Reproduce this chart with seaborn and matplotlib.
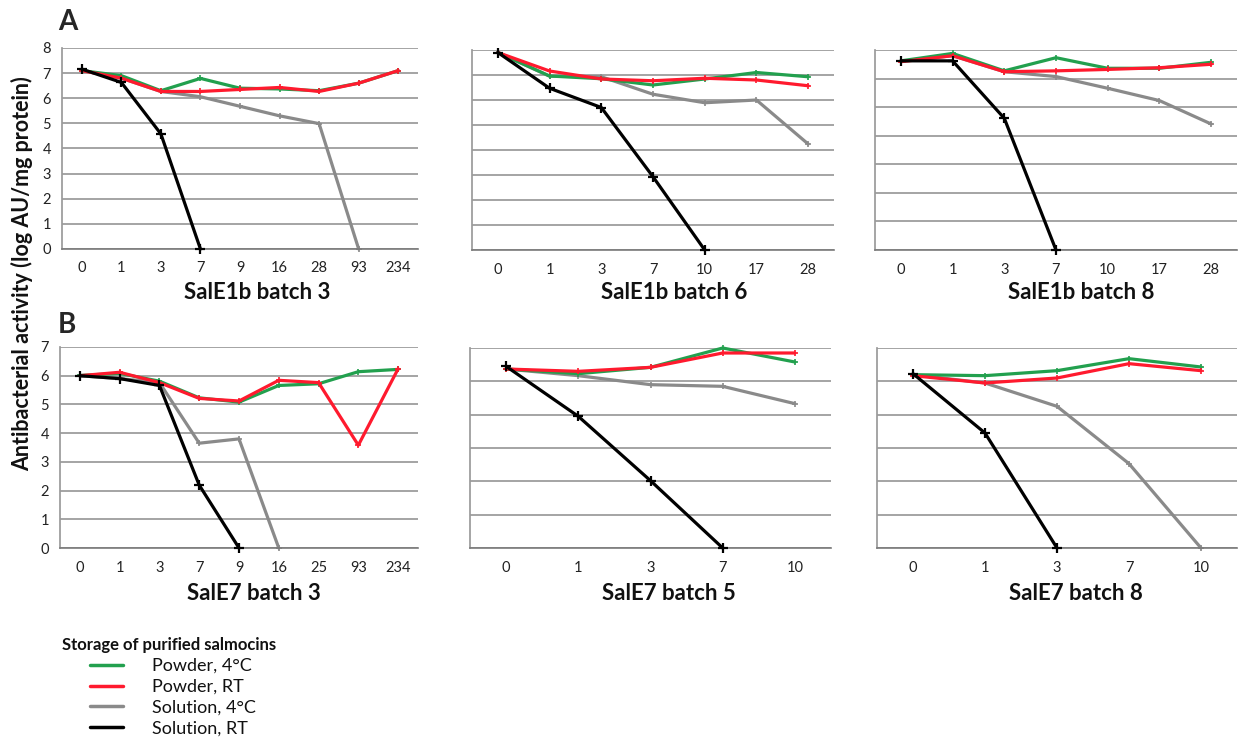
import numpy as np
import pandas as pd
import matplotlib
matplotlib.use("Agg")
import matplotlib.pyplot as plt
from matplotlib.ticker import MultipleLocator
import seaborn as sns

# ---------------- data ----------------
series_names = ["Powder, 4°C", "Powder, RT", "Solution, 4°C", "Solution, RT"]
series_colors = ["#22a04e", "#ff1a2e", "#8a8a8a", "#000000"]

# Panel A1: SalE1b batch 3
A1_days = ["0", "1", "3", "7", "9", "16", "28", "93", "234"]
A1_powder_4C = [7.1, 6.9, 6.3, 6.79, 6.4, 6.37, 6.3, 6.6, 7.1]
A1_powder_RT = [7.1, 6.8, 6.27, 6.27, 6.35, 6.43, 6.27, 6.6, 7.1]
A1_solution_4C = [7.1, 6.8, 6.27, 6.06, 5.68, 5.3, 4.99, 0.0, np.nan]
A1_solution_RT = [7.16, 6.63, 4.58, 0.0, np.nan, np.nan, np.nan, np.nan, np.nan]

# Panel A2: SalE1b batch 6
A2_days = ["0", "1", "3", "7", "10", "17", "28"]
A2_powder_4C = [7.9, 6.96, 6.85, 6.6, 6.84, 7.1, 6.93]
A2_powder_RT = [7.9, 7.16, 6.84, 6.77, 6.87, 6.8, 6.57]
A2_solution_4C = [7.9, 6.95, 6.93, 6.23, 5.89, 6.0, 4.24]
A2_solution_RT = [7.9, 6.47, 5.7, 2.93, 0.0, np.nan, np.nan]

# Panel A3: SalE1b batch 8
A3_days = ["0", "1", "3", "7", "10", "17", "28"]
A3_powder_4C = [6.62, 6.88, 6.27, 6.73, 6.36, 6.36, 6.57]
A3_powder_RT = [6.59, 6.8, 6.24, 6.27, 6.32, 6.38, 6.5]
A3_solution_4C = [6.6, 6.8, 6.24, 6.07, 5.66, 5.23, 4.41]
A3_solution_RT = [6.62, 6.62, 4.61, 0.0, np.nan, np.nan, np.nan]

# Panel B1: SalE7 batch 3
B1_days = ["0", "1", "3", "7", "9", "16", "25", "93", "234"]
B1_powder_4C = [6.01, 6.08, 5.81, 5.23, 5.08, 5.66, 5.72, 6.14, 6.22]
B1_powder_RT = [6.0, 6.12, 5.76, 5.21, 5.12, 5.84, 5.76, 3.58, 6.24]
B1_solution_4C = [6.0, 5.9, 5.76, 3.65, 3.8, 0.0, np.nan, np.nan, np.nan]
B1_solution_RT = [6.0, 5.9, 5.66, 2.19, 0.0, np.nan, np.nan, np.nan, np.nan]

# Panel B2: SalE7 batch 5
B2_days = ["0", "1", "3", "7", "10"]
B2_powder_4C = [5.37, 5.23, 5.42, 6.0, 5.58]
B2_powder_RT = [5.37, 5.3, 5.42, 5.85, 5.85]
B2_solution_4C = [5.37, 5.17, 4.9, 4.85, 4.33]
B2_solution_RT = [5.45, 3.95, 2.02, 0.0, np.nan]

# Panel B3: SalE7 batch 8
B3_days = ["0", "1", "3", "7", "10"]
B3_powder_4C = [5.2, 5.17, 5.32, 5.68, 5.43]
B3_powder_RT = [5.17, 4.95, 5.1, 5.53, 5.32]
B3_solution_4C = [5.2, 4.95, 4.25, 2.53, 0.0]
B3_solution_RT = [5.23, 3.45, 0.0, np.nan, np.nan]

panel_titles = ["SalE1b batch 3", "SalE1b batch 6", "SalE1b batch 8",
                "SalE7 batch 3", "SalE7 batch 5", "SalE7 batch 8"]

# ---------------- styling ----------------
sns.set_theme(style="white")
FONT = ["Lato", "DejaVu Sans"]
plt.rcParams["font.family"] = FONT

W, H = 1238, 739
fig = plt.figure(figsize=(W / 100, H / 100), dpi=100)

panels = [
    (A1_days, [A1_powder_4C, A1_powder_RT, A1_solution_4C, A1_solution_RT], 8, True,  (62, 418, 48, 249)),
    (A2_days, [A2_powder_4C, A2_powder_RT, A2_solution_4C, A2_solution_RT], 8, False, (472, 834, 50, 250)),
    (A3_days, [A3_powder_4C, A3_powder_RT, A3_solution_4C, A3_solution_RT], 7, False, (875, 1237, 50, 250)),
    (B1_days, [B1_powder_4C, B1_powder_RT, B1_solution_4C, B1_solution_RT], 7, True,  (60, 418, 347, 548)),
    (B2_days, [B2_powder_4C, B2_powder_RT, B2_solution_4C, B2_solution_RT], 6, False, (470, 831, 348, 548)),
    (B3_days, [B3_powder_4C, B3_powder_RT, B3_solution_4C, B3_solution_RT], 6, False, (877, 1237, 348, 548)),
]
title_pos = [(257, 293), (674, 293), (1081, 293), (254, 593), (669, 593), (1076, 594)]

zorders = {"Powder, 4°C": 3, "Powder, RT": 4, "Solution, 4°C": 2.5, "Solution, RT": 5}
palette = dict(zip(series_names, series_colors))
legend_handles = None

for i, (days, vals, ymax, show_y, (l, r, t, b)) in enumerate(panels):
    ax = fig.add_axes([l / W, 1 - b / H, (r - l) / W, (b - t) / H])
    rows = []
    for name, v in zip(series_names, vals):
        for k, (d, y) in enumerate(zip(days, v)):
            if not np.isnan(y):
                rows.append({"pos": k, "day": d, "activity": y, "storage": name})
    df = pd.DataFrame(rows)
    sns.lineplot(data=df, x="pos", y="activity", hue="storage", hue_order=series_names,
                 palette=palette, style="storage", style_order=series_names,
                 markers=["+", "+", "+", "+"], dashes=False, markersize=7, markeredgewidth=1.6,
                 linewidth=2.3, errorbar=None, ax=ax, legend=(i == 0))
    for line, name in zip(ax.lines, series_names):
        line.set_zorder(zorders[name])
        line.set_clip_on(False)
        line.set_markeredgecolor(line.get_color())
        if name != "Solution, RT":
            line.set_markersize(5)
            line.set_markeredgewidth(1.2)
    if i == 0:
        legend_handles, legend_labels = ax.get_legend_handles_labels()
        ax.get_legend().remove()

    n = len(days)
    ax.set_xlim(-0.5, n - 0.5)
    ax.set_ylim(0, ymax)
    ax.set_xticks(range(n))
    ax.set_xticklabels(days, fontsize=10.5, color="#222222")
    ax.set_xticks(np.arange(-0.5, n, 1.0), minor=True)
    ax.tick_params(axis="x", which="major", length=0, pad=9)
    ax.tick_params(axis="x", which="minor", length=5, width=1, color="#7a7a7a", direction="out")
    ax.set_yticks(range(ymax + 1))
    ax.yaxis.set_minor_locator(MultipleLocator(0.2))
    if show_y:
        ax.set_yticklabels([str(v) for v in range(ymax + 1)], fontsize=10.5, color="#222222")
    else:
        ax.set_yticklabels([])
    ax.tick_params(axis="y", which="major", length=4, width=1, color="#9a9a9a", direction="out", pad=4)
    ax.tick_params(axis="y", which="minor", length=2.5, width=0.8, color="#b0b0b0", direction="out")
    ax.yaxis.grid(True, color="#8c8c8c", linewidth=1.1)
    ax.set_axisbelow(True)
    for s in ["top", "right"]:
        ax.spines[s].set_visible(False)
    ax.spines["left"].set_color("#9a9a9a")
    ax.spines["bottom"].set_color("#7a7a7a")
    ax.spines["bottom"].set_linewidth(1.2)
    ax.set_xlabel("")
    ax.set_ylabel("")
    tx, ty = title_pos[i]
    fig.text(tx / W, 1 - ty / H, panel_titles[i], ha="center", va="center",
             fontsize=16, fontweight="bold", color="#111111")

# panel letters and y label
fig.text(58 / W, 1 - 22 / H, "A", fontsize=20, fontweight="bold", ha="left", va="center")
fig.text(58 / W, 1 - 325 / H, "B", fontsize=20, fontweight="bold", ha="left", va="center")
fig.text(22 / W, 1 - 274 / H, "Antibacterial activity (log AU/mg protein)", rotation=90,
         fontsize=15.5, fontweight="bold", ha="center", va="center", color="#111111")

# legend
fig.text(62 / W, 1 - 645 / H, "Storage of purified salmocins", fontsize=12,
         fontweight="bold", ha="left", va="center", color="#111111")
for h in legend_handles:
    h.set_marker("")
    h.set_linewidth(2.5)
leg = fig.legend(legend_handles, legend_labels, loc="upper left",
                 bbox_to_anchor=(90 / W, 1 - 658 / H), frameon=False, fontsize=13,
                 handlelength=1.8, handletextpad=1.65, labelspacing=0.27,
                 borderaxespad=0, borderpad=0)
for txt in leg.get_texts():
    txt.set_color("#111111")

fig.savefig("out.png", dpi=100, facecolor="white")
